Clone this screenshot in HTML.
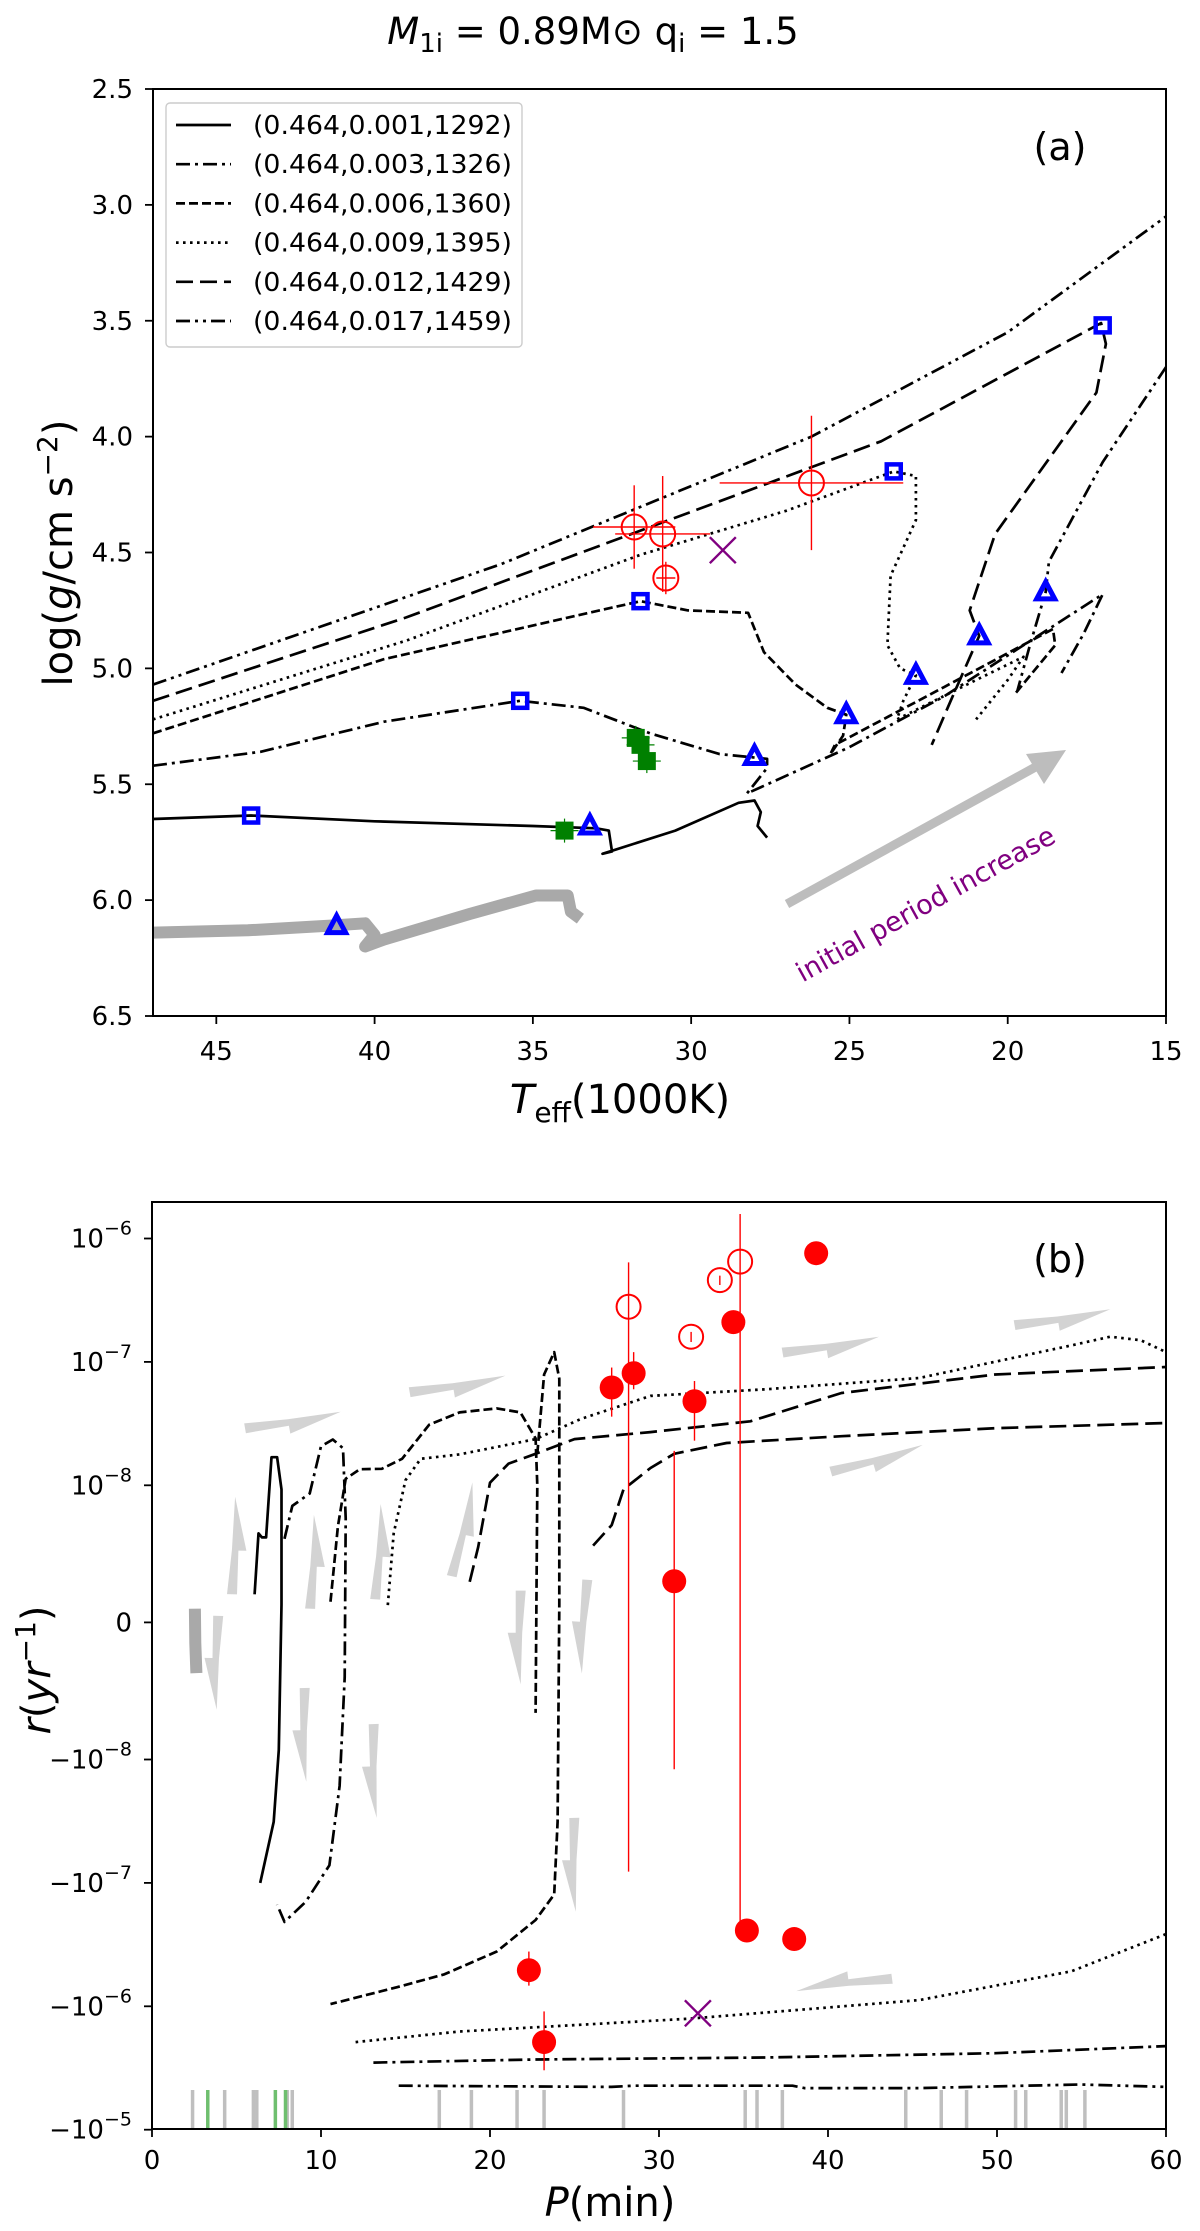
<!DOCTYPE html>
<html><head><meta charset="utf-8"><style>
html,body{margin:0;padding:0;background:#fff;}
svg{display:block;font-family:"DejaVu Sans","Liberation Sans",sans-serif;}
</style></head><body>
<svg id="fig" width="1200" height="2231" viewBox="0 0 1200 2231" xmlns="http://www.w3.org/2000/svg">
<text x="593" y="44" text-anchor="middle" font-size="37"><tspan font-style="italic">M</tspan><tspan font-size="26" dy="8">1i</tspan><tspan dy="-8"> = 0.89M</tspan><tspan>⊙</tspan><tspan> q</tspan><tspan font-size="26" dy="8">i</tspan><tspan dy="-8"> = 1.5</tspan></text>
<defs>
<clipPath id="clipA"><rect x="153" y="89" width="1013" height="927"/></clipPath>
<clipPath id="clipB"><rect x="152" y="1202" width="1014" height="927"/></clipPath>
</defs>
<g id="panelA"></g>
<g id="panelB"></g>
</svg>
<script>
// ---------- Panel (a) data ----------
const aXTicks = [45,40,35,30,25,20,15];
const aYTicks = [2.5,3.0,3.5,4.0,4.5,5.0,5.5,6.0,6.5];
const legendLabels = ["(0.464,0.001,1292)","(0.464,0.003,1326)","(0.464,0.006,1360)","(0.464,0.009,1395)","(0.464,0.012,1429)","(0.464,0.017,1459)"];
const track001 = [[47,5.65],[43.9,5.635],[40,5.66],[35,5.68],[33,5.69],[32.6,5.7],[32.5,5.79],[32.8,5.8],[30.5,5.7],[28.5,5.58],[28.0,5.57],[27.8,5.62],[27.9,5.68],[27.6,5.73]];
const trackGrey = [[47,6.14],[44,6.13],[41.4,6.11],[40.3,6.1],[40.0,6.15],[40.3,6.2],[39.7,6.17],[37,6.06],[34.9,5.98],[33.9,5.98],[33.8,6.05],[33.5,6.08]];
const track003 = [[47,5.42],[43.6,5.36],[39.7,5.23],[35.4,5.14],[33.4,5.17],[31.3,5.28],[29.1,5.37],[27.6,5.39],[27.6,5.43],[28.24,5.54],[25,5.34],[22,5.12],[17.0,4.68],[17.6,4.85],[18.3,5.02]];
const track006 = [[47,5.28],[39.7,4.96],[31.6,4.71],[30.1,4.75],[28.2,4.76],[27.7,4.93],[26.7,5.07],[25.7,5.17],[25.1,5.2],[25.2,5.29],[25.6,5.37],[25.46,5.33],[22,5.08],[18.57,4.83],[18.5,4.9],[19.77,5.11]];
const track009 = [[47,5.22],[39,4.88],[31.6,4.51],[27,4.32],[23.6,4.15],[22.9,4.17],[22.9,4.36],[23.7,4.6],[23.8,4.9],[23.4,5.0],[22.9,5.03],[23.3,5.14],[23.5,5.22],[21,5.05],[19.5,4.95],[20.0,5.05],[21.0,5.22]];
const track012 = [[47,5.14],[39,4.78],[30.9,4.37],[24,4.02],[17.05,3.51],[16.9,3.6],[17.2,3.81],[20.4,4.42],[21.2,4.75],[20.9,4.86],[21.8,5.14],[22.4,5.33]];
const track017 = [[47,5.07],[36,4.55],[26.2,4.0],[20,3.55],[15,3.05]];
const track017b = [[15,3.7],[17,4.11],[18.7,4.54],[18.8,4.67],[19.3,4.9],[19.7,5.1]];
const sqT = [43.9,35.4,31.6,23.6,17.0];
const sqG = [5.635,5.14,4.71,4.15,3.52];
const triT = [41.2,33.2,28.0,25.1,22.9,20.9,18.8];
const triG = [6.11,5.68,5.38,5.2,5.03,4.86,4.67];
const obsT = [31.8,30.9,30.8,26.2];
const obsG = [4.39,4.42,4.61,4.2];
const obsTerr = [1.3,1.5,0.3,2.9];
const obsGerr = [0.18,0.25,0.07,0.29];
const greenT = [31.75,31.6,31.4,34.0];
const greenG = [5.3,5.33,5.4,5.7];
const crossA = [29.0,4.49];

// ---------- Panel (b) data ----------
const bXTicks = [0,10,20,30,40,50,60];
const bYTickVals = [1e-6,1e-7,1e-8,0,-1e-8,-1e-7,-1e-6,-1e-5];
const bYTickLabels = [["10","−6"],["10","−7"],["10","−8"],["0",""],["−10","−8"],["−10","−7"],["−10","−6"],["−10","−5"]];
const b001 = [[6.07,2.05e-9],[6.3,6.5e-9],[6.5,6.2e-9],[6.75,6.2e-9],[7.07,1.69e-8],[7.4,1.69e-8],[7.66,9.7e-9],[7.66,1.3e-9],[7.5,-9.3e-9],[7.2,-3.2e-8],[6.4,-1.0e-7]];
const b003 = [[7.84,6.1e-9],[8.3,8.5e-9],[9.33,9.4e-9],[10.0,2.07e-8],[10.7,2.35e-8],[11.3,2.0e-8],[11.46,7.6e-9],[11.4,-4e-9],[11.1,-1.64e-8],[10.5,-7.2e-8],[9.1,-1.42e-7],[7.84,-2.07e-7],[7.4,-1.5e-7]];
const b006a = [[10.56,1.5e-9],[11.0,7e-9],[11.46,1.13e-8],[12.3,1.35e-8],[13.6,1.36e-8],[14.8,1.64e-8],[16.4,3.1e-8],[18.2,3.9e-8],[20.4,4.2e-8],[21.8,3.9e-8],[22.7,2.4e-8],[22.8,1e-8],[22.7,-6.6e-9]];
const b006b = [[22.8,1.8e-8],[23.2,7.9e-8],[23.8,1.2e-7],[24.1,7.3e-8],[24.1,1.3e-9],[24.0,-3.2e-8],[23.8,-1.24e-7],[22.7,-2.0e-7],[20.4,-3.6e-7],[17.3,-5.5e-7],[14.5,-7e-7],[10.56,-9.6e-7]];
const b009 = [[13.95,1.26e-9],[14.3,6.5e-9],[15.0,1.1e-8],[15.9,1.64e-8],[18.2,1.78e-8],[22.7,2.37e-8],[25.4,3.46e-8],[29.5,5.3e-8],[36.3,6.0e-8],[45.4,7.4e-8],[54.4,1.36e-7],[56.7,1.6e-7],[58.5,1.5e-7],[60,1.2e-7]];
const b009n = [[12.05,-1.95e-6],[18.2,-1.6e-6],[31.8,-1.26e-6],[45.4,-8.9e-7],[54.4,-5.2e-7],[60,-2.6e-7]];
const b012 = [[18.8,2.96e-9],[19.3,5.5e-9],[20.0,1.05e-8],[21.1,1.5e-8],[22.7,1.8e-8],[25,2.37e-8],[29.5,2.7e-8],[35.4,3.3e-8],[40.8,5.6e-8],[49.9,7.9e-8],[60,9.1e-8]];
const b012n = [[13.1,-2.86e-6],[22.7,-2.7e-6],[36.3,-2.6e-6],[49.9,-2.4e-6],[60,-2.1e-6]];
const b017 = [[26.1,5.6e-9],[27.2,7.1e-9],[27.9,9.7e-9],[29.5,1.38e-8],[30.9,1.8e-8],[34.0,2.2e-8],[40.8,2.5e-8],[49.9,2.9e-8],[60,3.2e-8]];
const b017n = [[14.6,-4.4e-6],[27.2,-4.5e-6],[28.5,-4.4e-6],[37.9,-4.4e-6],[38.6,-4.6e-6],[45.4,-4.6e-6],[54.9,-4.3e-6],[60,-4.5e-6]];
const bGrey = [[2.54,1e-9],[2.56,-1.5e-9],[2.63,-3.7e-9]];
const filledP = [27.2,28.5,32.1,34.4,39.3,30.9,35.2,38.0,22.3,23.2];
const filledR = [6.2e-8,8.1e-8,4.8e-8,2.1e-7,7.6e-7,3.0e-9,-2.43e-7,-2.85e-7,-5.1e-7,-1.95e-6];
const filledLo = [3.6e-8,6e-8,2.3e-8,2.1e-7,7.6e-7,-1.2e-8,-2.43e-7,-2.85e-7,-6.8e-7,-3.3e-6];
const filledHi = [9e-8,1.2e-7,7e-8,2.1e-7,7.6e-7,1.9e-8,-2.43e-7,-2.85e-7,-3.6e-7,-1.1e-6];
const openP = [28.2,31.9,33.6,34.8];
const openR = [2.8e-7,1.6e-7,4.6e-7,6.5e-7];
const openLo = [-8.1e-8,1.45e-7,4.2e-7,-2.43e-7];
const openHi = [6.4e-7,1.75e-7,5.0e-7,1.58e-6];
const crossB = [32.3,-1.14e-6];
const rugGrey = [2.4,4.3,6.0,6.2,8.0,8.3,17.0,18.9,21.6,23.2,27.9,35.1,35.8,37.3,44.6,46.7,48.2,51.1,51.7,53.8,54.1,55.2];
const rugGreen = [3.3,7.3,7.9];

const NS="http://www.w3.org/2000/svg";
function mk(tag,attrs,parent){const e=document.createElementNS(NS,tag);for(const k in attrs)e.setAttribute(k,attrs[k]);parent.appendChild(e);return e;}
const LW=2.7;
const dashes=["none","14,5,3,5","9,4","2.6,4.4","17,7","14,5,3,5,3,5"];
const TF=26, AF=40;

// ---------- Axes (a) ----------
const ax={l:153,r:1166,t:89,b:1016};
function xA(T){return ax.l+(47-T)*(ax.r-ax.l)/32;}
function yA(g){return ax.t+(g-2.5)*(ax.b-ax.t)/4;}
const A=document.getElementById('panelA');
const AC=mk('g',{'clip-path':'url(#clipA)'},A);
function pathA(pts,stroke,w,dash,name,parent){const d=pts.map((p,i)=>(i?'L':'M')+xA(p[0]).toFixed(1)+','+yA(p[1]).toFixed(1)).join(' ');
 const e=mk('path',{d:d,fill:'none',stroke:stroke,'stroke-width':w,'stroke-dasharray':dash,'stroke-linejoin':'round','stroke-linecap':'butt'},parent||AC);
 
 return e;}
pathA(trackGrey,'#a9a9a9',12,'none','grey-track-a');
const tracksA=[track001,track003,track006,track009,track012,track017];
tracksA.forEach((t,i)=>{pathA(t,'#000',LW,dashes[i],'track-'+legendLabels[i].split(',')[1].replace('.','p'));});
pathA(track017b,'#000',LW,dashes[5],'track-0p017-branch');
// arrow
const ar=mk('g',{},A);


mk('line',{x1:787,y1:904,x2:1050,y2:759,stroke:'#bdbdbd','stroke-width':9},ar);
mk('polygon',{points:'1066,750 1044,784 1026,754',fill:'#bdbdbd'},ar);
const pt=mk('text',{x:930,y:912,'font-size':27,fill:'purple','text-anchor':'middle',transform:'rotate(-29 930 912)'},A);
pt.textContent='initial period increase';


// green squares
greenT.forEach((T,i)=>{const x=xA(T),y=yA(greenG[i]);
 mk('line',{x1:x-14,y1:y,x2:x+14,y2:y,stroke:'green','stroke-width':1.2},AC);
 mk('line',{x1:x,y1:y-12,x2:x,y2:y+12,stroke:'green','stroke-width':1.2},AC);
 const s=mk('rect',{x:x-9,y:y-9,width:18,height:18,fill:'green'},AC);
 
 });
// blue squares
sqT.forEach((T,i)=>{const x=xA(T),y=yA(sqG[i]);
 const s=mk('rect',{x:x-7,y:y-7,width:14,height:14,fill:'none',stroke:'blue','stroke-width':4.5},AC);
 
 });
triT.forEach((T,i)=>{const x=xA(T),y=yA(triG[i]);
 const s=mk('polygon',{points:`${x},${y-10} ${x+9},${y+7} ${x-9},${y+7}`,fill:'none',stroke:'blue','stroke-width':5,'stroke-linejoin':'miter'},AC);
 
 });
// red obs
obsT.forEach((T,i)=>{const x=xA(T),y=yA(obsG[i]);
 mk('line',{x1:xA(T+obsTerr[i]),y1:y,x2:xA(T-obsTerr[i]),y2:y,stroke:'red','stroke-width':1.4},AC);
 mk('line',{x1:x,y1:yA(obsG[i]-obsGerr[i]),x2:x,y2:yA(obsG[i]+obsGerr[i]),stroke:'red','stroke-width':1.4},AC);
 const c=mk('circle',{cx:x,cy:y,r:12.5,fill:'none',stroke:'red','stroke-width':2},AC);
 
 });
{const x=xA(crossA[0]),y=yA(crossA[1]);const g=mk('g',{stroke:'purple','stroke-width':2.4},AC);
 
 
 mk('line',{x1:x-13,y1:y-13,x2:x+13,y2:y+13},g);mk('line',{x1:x-13,y1:y+13,x2:x+13,y2:y-13},g);}
// frame & ticks
const fa=mk('rect',{x:ax.l,y:ax.t,width:ax.r-ax.l,height:ax.b-ax.t,fill:'none',stroke:'#000','stroke-width':2},A);


aXTicks.forEach(v=>{const x=xA(v);mk('line',{x1:x,y1:ax.b,x2:x,y2:ax.b+8,stroke:'#000','stroke-width':1.8},A);
 const t=mk('text',{x:x,y:ax.b+44,'text-anchor':'middle','font-size':TF},A);t.textContent=String(v);
 
 });
aYTicks.forEach(v=>{const y=yA(v);mk('line',{x1:ax.l-8,y1:y,x2:ax.l,y2:y,stroke:'#000','stroke-width':1.8},A);
 const t=mk('text',{x:ax.l-20,y:y+9,'text-anchor':'end','font-size':TF},A);t.textContent=v.toFixed(1);
 
 });
{const t=mk('text',{x:620,y:1113,'text-anchor':'middle','font-size':AF},A);
 t.innerHTML='<tspan font-style="italic">T</tspan><tspan font-size="28" dy="9">eff</tspan><tspan dy="-9">(1000K)</tspan>';
 
 
 const y=mk('text',{x:0,y:0,'text-anchor':'middle','font-size':AF,transform:'translate(72 553) rotate(-90)'},A);
 y.innerHTML='log(<tspan font-style="italic">g</tspan>/cm s<tspan font-size="28" dy="-15">−2</tspan><tspan dy="15">)</tspan>';
 
 
 const p=mk('text',{x:1060,y:160,'text-anchor':'middle','font-size':38},A);p.textContent='(a)';
 
 }
// legend
{const lg=mk('g',{},A);
 
 
 mk('rect',{x:166,y:103,width:356,height:244,rx:4,fill:'#fff','fill-opacity':0.8,stroke:'#ccc','stroke-width':1.4},lg);
 legendLabels.forEach((lab,i)=>{const y=125+i*39.2;
  const e=mk('g',{},lg);
  
  
  mk('line',{x1:176,y1:y,x2:231,y2:y,stroke:'#000','stroke-width':LW,'stroke-dasharray':dashes[i]},e);
  const t=mk('text',{x:253,y:y+9,'font-size':26,textLength:259,lengthAdjust:'spacingAndGlyphs'},e);t.textContent=lab;});}

// ---------- Axes (b) ----------
const bx={l:152,r:1166,t:1202,b:2129};
const Y0=1622.4, LIN=137.1, DEC=123.4;
function xB(P){return bx.l+P*(bx.r-bx.l)/60;}
function yB(r){const a=Math.abs(r);let s;if(a<1e-8)s=r/1e-8*LIN;else s=Math.sign(r)*(LIN+DEC*Math.log10(a/1e-8));return Y0-s;}
const B=document.getElementById('panelB');
const BC=mk('g',{'clip-path':'url(#clipB)'},B);
// decorative grey half-arrows (positions from picture)
const gArrows=[[320,455,445,432],[535,405,660,382],[1022,350,1148,328],[1325,312,1450,290],[1085,515,1205,478],[1165,1218,1040,1235],
 [303,685,307,550],[405,705,410,575],[490,692,497,560],[590,660,617,530],
 [285,715,283,845],[398,815,400,945],[488,865,492,995],[680,680,680,810],[767,665,760,795],[750,995,752,1125]];
gArrows.forEach(a=>{const x1=a[0]/1.306,y1=a[1]/1.386+1100,x2=a[2]/1.306,y2=a[3]/1.386+1100;
 const dx=x2-x1,dy=y2-y1,L=Math.hypot(dx,dy),ux=dx/L,uy=dy/L,nx=-uy,ny=ux;
 const w=5,hl=L*0.55,hw=13;const hx=x2-ux*hl,hy=y2-uy*hl;
 const pts=[[x1+nx*w,y1+ny*w],[hx+nx*w,hy+ny*w],[hx+nx*hw,hy+ny*hw],[x2,y2],[hx-nx*w*0.3,hy-ny*w*0.3],[x1-nx*w,y1-ny*w]];
 const p=mk('polygon',{points:pts.map(q=>q[0].toFixed(1)+','+q[1].toFixed(1)).join(' '),fill:'#d3d3d3'},BC);
 
 });
function pathB(pts,stroke,w,dash,name){const d=pts.map((p,i)=>(i?'L':'M')+xB(p[0]).toFixed(1)+','+yB(p[1]).toFixed(1)).join(' ');
 const e=mk('path',{d:d,fill:'none',stroke:stroke,'stroke-width':w,'stroke-dasharray':dash,'stroke-linejoin':'round','stroke-linecap':'butt'},BC);
 
 }
pathB(bGrey,'#a9a9a9',12,'none','grey-track-b');
pathB(b001,'#000',LW,dashes[0],'rate-0p001');
pathB(b003,'#000',LW,dashes[1],'rate-0p003');
pathB(b006a,'#000',LW,dashes[2],'rate-0p006-a');
pathB(b006b,'#000',LW,dashes[2],'rate-0p006-b');
pathB(b009,'#000',LW,dashes[3],'rate-0p009');
pathB(b009n,'#000',LW,dashes[3],'rate-0p009-neg');
pathB(b012,'#000',LW,dashes[4],'rate-0p012');
pathB(b012n,'#000',LW,dashes[1],'rate-0p012-neg');
pathB(b017,'#000',LW,dashes[4],'rate-0p017');
pathB(b017n,'#000',LW,dashes[5],'rate-0p017-neg');
// rug
rugGrey.forEach(P=>{const l=mk('line',{x1:xB(P),y1:bx.b-39,x2:xB(P),y2:bx.b,stroke:'#bfbfbf','stroke-width':3.5},BC);
 
 });
rugGreen.forEach(P=>{const l=mk('line',{x1:xB(P),y1:bx.b-39,x2:xB(P),y2:bx.b,stroke:'#6fbf6f','stroke-width':3.5},BC);
 
 });
// points
openP.forEach((P,i)=>{const x=xB(P);
 mk('line',{x1:x,y1:yB(openLo[i]),x2:x,y2:yB(openHi[i]),stroke:'red','stroke-width':1.4},BC);
 const c=mk('circle',{cx:x,cy:yB(openR[i]),r:12,fill:'none',stroke:'red','stroke-width':2},BC);
 
 });
filledP.forEach((P,i)=>{const x=xB(P);
 mk('line',{x1:x,y1:yB(filledLo[i]),x2:x,y2:yB(filledHi[i]),stroke:'red','stroke-width':1.4},BC);
 const c=mk('circle',{cx:x,cy:yB(filledR[i]),r:12,fill:'red'},BC);
 
 });
{const x=xB(crossB[0]),y=yB(crossB[1]);const g=mk('g',{stroke:'purple','stroke-width':2.4},BC);
 
 
 mk('line',{x1:x-13,y1:y-13,x2:x+13,y2:y+13},g);mk('line',{x1:x-13,y1:y+13,x2:x+13,y2:y-13},g);}
const fb=mk('rect',{x:bx.l,y:bx.t,width:bx.r-bx.l,height:bx.b-bx.t,fill:'none',stroke:'#000','stroke-width':2},B);


bXTicks.forEach(v=>{const x=xB(v);mk('line',{x1:x,y1:bx.b,x2:x,y2:bx.b+8,stroke:'#000','stroke-width':1.8},B);
 const t=mk('text',{x:x,y:bx.b+40,'text-anchor':'middle','font-size':TF},B);t.textContent=String(v);
 
 });
bYTickVals.forEach((v,i)=>{const y=yB(v);mk('line',{x1:bx.l-8,y1:y,x2:bx.l,y2:y,stroke:'#000','stroke-width':1.8},B);
 const lab=bYTickLabels[i];const t=mk('text',{x:bx.l-20,y:y+9,'text-anchor':'end','font-size':TF},B);
 if(lab[1]) t.innerHTML=lab[0]+'<tspan font-size="19" dy="-13">'+lab[1]+'</tspan>'; else t.textContent=lab[0];
 
 });
{const t=mk('text',{x:610,y:2216,'text-anchor':'middle','font-size':AF},B);
 t.innerHTML='<tspan font-style="italic">P</tspan>(min)';
 
 
 const y=mk('text',{x:0,y:0,'text-anchor':'middle','font-size':AF,transform:'translate(50 1670) rotate(-90)'},B);
 y.innerHTML='<tspan font-style="italic">r</tspan>(<tspan font-style="italic">yr</tspan><tspan font-size="28" dy="-15">−1</tspan><tspan dy="15">)</tspan>';
 
 
 const p=mk('text',{x:1060,y:1272,'text-anchor':'middle','font-size':38},B);p.textContent='(b)';
 
 }
</script>
</body></html>
